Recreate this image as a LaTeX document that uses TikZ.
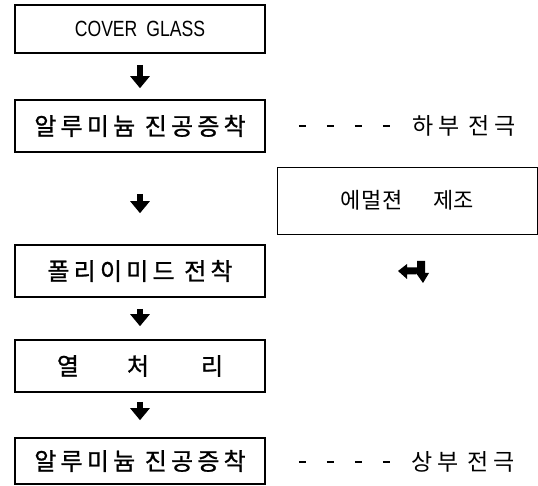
\documentclass[tikz,border=0pt]{standalone}
\usepackage{fontspec}
\usetikzlibrary{arrows.meta}
\setmainfont{Liberation Sans}
\newfontfamily\cg{Liberation Sans}[FakeStretch=0.8]
\newfontfamily\kr{Noto Sans CJK KR}[FakeBold=1]
\newfontfamily\krl{Noto Sans CJK KR}
\newcommand\kk{\kern4.2pt}
\newcommand\kj{\kern4.5pt}
\begin{document}
\begin{tikzpicture}[x=1pt,y=-1pt,
  stepbox/.style={draw,line width=1.6pt,minimum width=250pt,inner sep=0pt,anchor=center},
  sidetxt/.style={inner sep=0pt,font=\krl\fontsize{23}{25}\selectfont},
  boxtxt/.style={font=\kr\fontsize{24}{26}\selectfont},
  blockarrow/.style={line width=6.5pt,-{Triangle[width=19pt,length=12pt]}},
  dashline/.style={line width=1.6pt,dash pattern=on 7pt off 21pt}]
\useasboundingbox (0,0) rectangle (538,486);
\node[stepbox,minimum height=48pt,font=\cg\fontsize{22}{24}\selectfont] (b1) at (140,29) {COVER\hspace{9pt}GLASS};
\node[stepbox,boxtxt,minimum height=52pt] (b2) at (140,126) {알\kk 루\kk 미\kk 늄\kk\ 진\kk 공\kk 증\kk 착};
\node[draw,line width=0.8pt,minimum width=260pt,minimum height=67pt,inner sep=0pt,font=\krl\fontsize{22}{24}\selectfont] (em) at (407,200.5) {에\kern1pt 멀\kern1pt 젼\hspace{30pt}제조};
\node[stepbox,boxtxt,minimum height=52pt] (b4) at (140,271) {폴\kk 리\kk 이\kk 미\kk 드\kk\ 전\kk 착};
\node[stepbox,boxtxt,minimum height=52pt] (b5) at (140,366) {열\hspace{48pt}처\hspace{52pt}리};
\node[stepbox,boxtxt,minimum height=46pt] (b6) at (140,461) {알\kk 루\kk 미\kk 늄\kk\ 진\kk 공\kk 증\kk 착};
\node[sidetxt] (t1) at (464,126) {하\kj 부\kj\ 전\kj 극};
\node[sidetxt] (t2) at (463,462) {상\kj 부\kj\ 전\kj 극};
% vertical arrows
\draw[blockarrow,shorten <=11pt,shorten >=11pt] (b1.south) -- (b2.north);
\draw[blockarrow,shorten <=41pt,shorten >=31pt] (b2.south) -- (b4.north);
\draw[blockarrow,shorten <=11pt,shorten >=13pt] (b4.south) -- (b5.north);
\draw[blockarrow,shorten <=9pt,shorten >=17pt] (b5.south) -- (b6.north);
% dashed leaders
\draw[dashline,shorten <=33pt,shorten >=21pt] (b2.east) -- (t1.west);
\draw[dashline,shorten <=33pt,shorten >=21pt] (b6.east |- t2.west) -- (t2.west);
% combined left/down arrow
\fill (398,271) -- (407,264) -- (407,267.5) -- (417,267.5) -- (417,261) -- (425,261) -- (425,273)
  -- (429,273) -- (423,283) -- (416,273) -- (416,274.5) -- (407,274.5) -- (407,279) -- cycle;
\end{tikzpicture}
\end{document}
